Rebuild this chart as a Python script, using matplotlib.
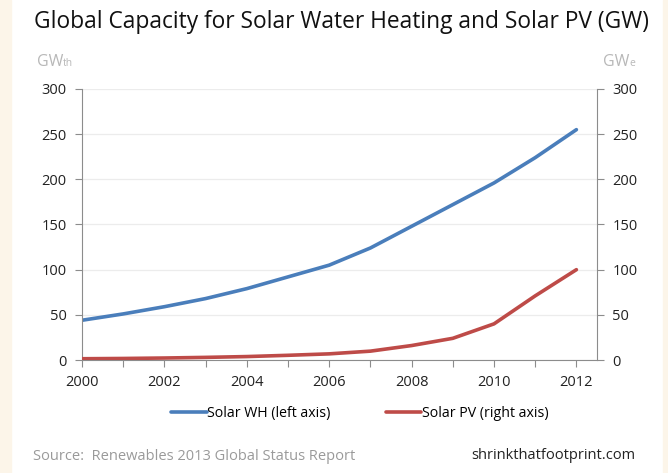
import matplotlib
matplotlib.use("Agg")
import matplotlib.pyplot as plt
from matplotlib.patches import Rectangle

years = [2000, 2001, 2002, 2003, 2004, 2005, 2006, 2007, 2008, 2009, 2010, 2011, 2012]
solar_wh = [44, 51, 59, 68, 79, 92, 105, 124, 148, 172, 196, 224, 255]
solar_pv = [1.4, 1.7, 2.2, 2.9, 3.8, 5.2, 6.8, 9.8, 16, 24, 40, 71, 100]
yticks = [0, 50, 100, 150, 200, 250, 300]
xticks = [2000, 2002, 2004, 2006, 2008, 2010, 2012]

plt.rcParams['font.family'] = ['Open Sans', 'DejaVu Sans']

W, H = 668, 473
fig = plt.figure(figsize=(W / 100, H / 100), dpi=100)
fig.patch.set_facecolor('white')
beige = '#fcf5e9'
fig.add_artist(Rectangle((0, 0), 11 / W, 1, transform=fig.transFigure, color=beige, zorder=0))
fig.add_artist(Rectangle((663 / W, 0), 5 / W, 1, transform=fig.transFigure, color=beige, zorder=0))

left, right, top, bottom = 82, 597, 89, 360
ax = fig.add_axes([left / W, 1 - bottom / H, (right - left) / W, (bottom - top) / H])
ax2 = ax.twinx()

blue = '#4a7ebb'
red = '#be4b48'
spine_c = '#8c8c8c'

l1, = ax.plot(years, solar_wh, color=blue, lw=2.6, solid_capstyle='round', label='Solar WH (left axis)')
l2, = ax2.plot(years, solar_pv, color=red, lw=2.6, solid_capstyle='round', label='Solar PV (right axis)')

for a in (ax, ax2):
    a.set_ylim(0, 300)
    a.set_yticks(yticks)
    a.set_xlim(2000, 2012.5)
    for s in a.spines.values():
        s.set_visible(False)
    a.tick_params(axis='y', length=5, color=spine_c, labelsize=10.5, labelcolor='#222222', pad=6)

ax.spines['left'].set_visible(True)
ax.spines['left'].set_color(spine_c)
ax.spines['bottom'].set_visible(True)
ax.spines['bottom'].set_color(spine_c)
ax2.spines['right'].set_visible(True)
ax2.spines['right'].set_color(spine_c)

ax.set_xticks(years)
ax.set_xticklabels([str(y) if y in xticks else '' for y in years])
ax.tick_params(axis='x', length=5, color=spine_c, labelsize=10.5, labelcolor='#222222', pad=6)
ax.grid(axis='y', color='#ececec', lw=0.9)
ax.set_axisbelow(True)

fig.text(341 / W, 1 - 22 / H, 'Global Capacity for Solar Water Heating and Solar PV (GW)',
         ha='center', va='center', fontsize=16.4, color='#111111')
gray = '#b8b8b8'
fig.text(37 / W, 1 - 62 / H, 'GW', ha='left', va='center', fontsize=11.5, color=gray)
fig.text(63 / W, 1 - 64 / H, 'th', ha='left', va='center', fontsize=7.5, color=gray)
fig.text(603 / W, 1 - 62 / H, 'GW', ha='left', va='center', fontsize=11.5, color=gray)
fig.text(629 / W, 1 - 64 / H, 'e', ha='left', va='center', fontsize=7.5, color=gray)

fig.legend(handles=[l1, l2], loc='center', bbox_to_anchor=(360 / W, 1 - 413 / H), ncol=2,
           frameon=False, fontsize=10.2, handlelength=2.5, handletextpad=0.05, columnspacing=3.9)

fig.text(33 / W, 1 - 456 / H, 'Source:  Renewables 2013 Global Status Report', ha='left', va='center',
         fontsize=10.5, color='#9a9a9a')
fig.text(635 / W, 1 - 455 / H, 'shrinkthatfootprint.com', ha='right', va='center',
         fontsize=10.5, color='#222222')

fig.savefig('out.png', dpi=100, facecolor=fig.get_facecolor())
